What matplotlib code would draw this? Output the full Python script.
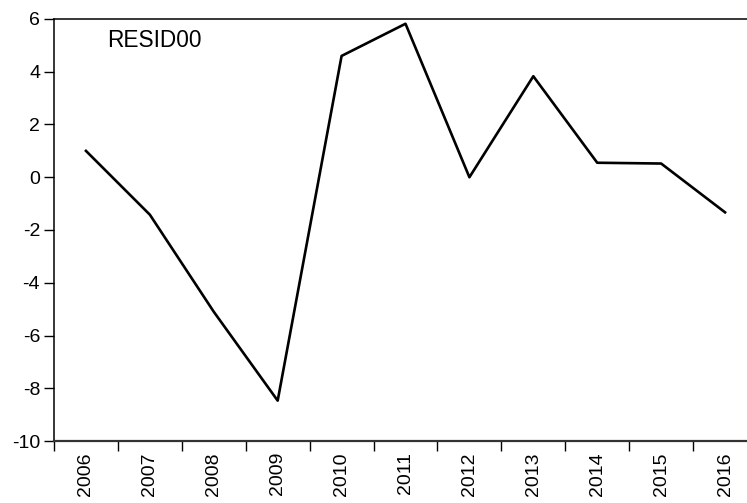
import matplotlib
matplotlib.use("Agg")
import matplotlib.pyplot as plt
import numpy as np

years = ["2006", "2007", "2008", "2009", "2010", "2011", "2012", "2013", "2014", "2015", "2016"]
resid = [1.0, -1.42, -5.1, -8.47, 4.6, 5.82, 0.0, 3.83, 0.55, 0.52, -1.33]
yticks = [-10, -8, -6, -4, -2, 0, 2, 4, 6]
series_name = "RESID00"

plt.rcParams['font.family'] = ['Liberation Sans', 'DejaVu Sans']

fig = plt.figure(figsize=(7.47, 5.03), dpi=100)
ax = fig.add_axes([54/747, 1-441/503, 1-54/747, (441-19)/503])

x = np.arange(len(years))
ax.plot(x, resid, color='black', lw=1.9)

n = len(years)
ax.set_xlim(-0.5, n - 0.5 - 10/63.9)
ax.set_ylim(-10, 6)
ax.set_yticks(yticks)
ax.set_yticklabels([str(v) for v in yticks], fontsize=14)
ax.set_xticks(np.arange(n) - 0.5)
ax.set_xticklabels([])
ax.set_xticks(x, minor=True)
ax.set_xticklabels(years, minor=True, rotation=90, fontsize=14)
ax.tick_params(axis='x', which='minor', length=0, pad=8)
ax.tick_params(axis='x', which='major', length=7, direction='out', width=1)
ax.tick_params(axis='y', length=7, direction='out', width=1, pad=3)

ax.spines['right'].set_visible(False)
for s in ['left', 'top']:
    ax.spines[s].set_linewidth(1.1)
ax.spines['bottom'].set_linewidth(1.6)
ax.spines['bottom'].set_color('#333333')

ax.text(53/693, (441-47)/422, series_name, transform=ax.transAxes, fontsize=16.3,
        va='baseline', ha='left')

fig.savefig("out.png", dpi=100)
